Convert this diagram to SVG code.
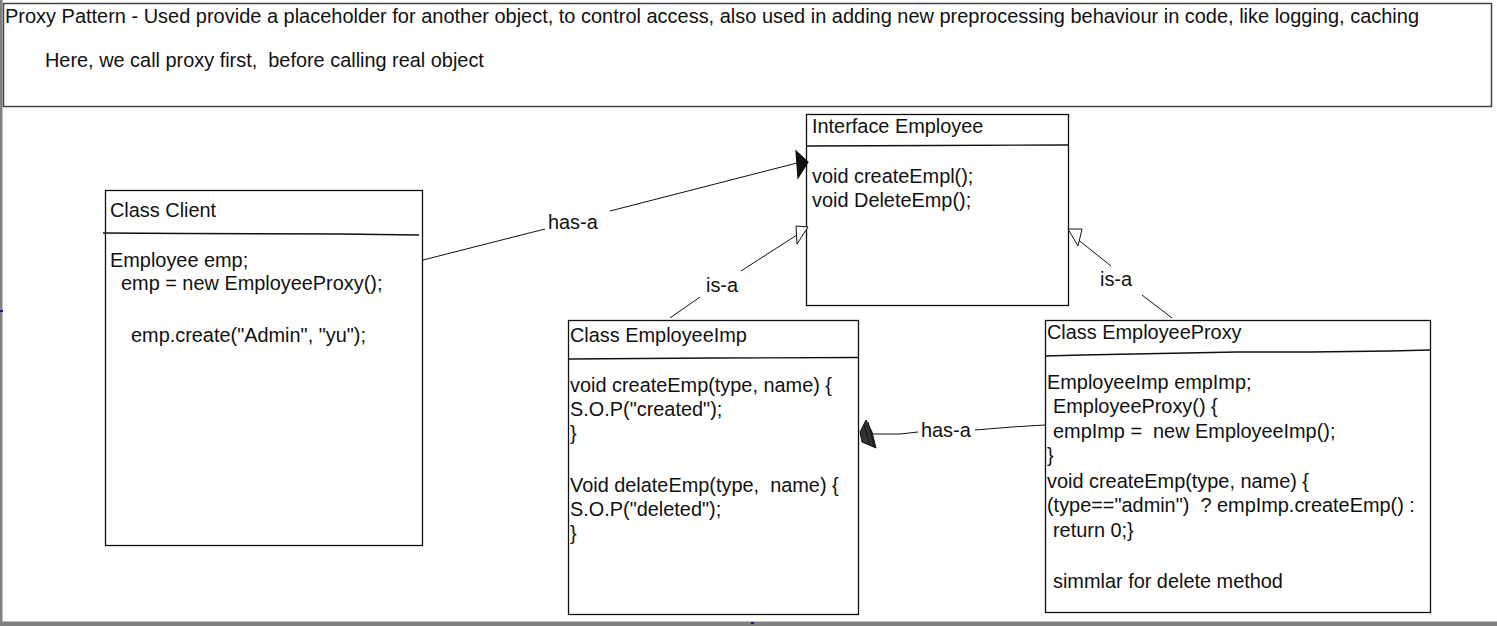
<svg xmlns="http://www.w3.org/2000/svg" width="1497" height="626" viewBox="0 0 1497 626">
<style>
text{font-family:"Liberation Sans",Arial,sans-serif;font-size:19.9px;fill:#111;white-space:pre}
.box{fill:#fff;stroke:#111;stroke-width:1.3}
.div{fill:none;stroke:#111;stroke-width:1.3}
.conn{fill:none;stroke:#111;stroke-width:1}
.tri{fill:#fff;stroke:#111;stroke-width:1}
</style>
<rect x="0" y="0" width="1497" height="626" fill="#fff"/>
<rect x="0" y="0" width="2.5" height="626" fill="#808080"/>
<rect x="0" y="621.5" width="1497" height="4.5" fill="#808080"/>
<rect x="0" y="310" width="3" height="2" fill="#1a1a9a"/>
<rect x="751" y="622" width="3" height="2" fill="#1a1a9a"/>

<g id="header">
<rect x="3.5" y="3.5" width="1488" height="103" fill="#fff" stroke="#444" stroke-width="1.5"/>
<text x="5" y="23" textLength="1414" lengthAdjust="spacingAndGlyphs" xml:space="preserve">Proxy Pattern - Used provide a placeholder for another object, to control access, also used in adding new preprocessing behaviour in code, like logging, caching</text>
<text x="45" y="67" xml:space="preserve">Here, we call proxy first,  before calling real object</text>
</g>

<g id="interface-employee">
<rect class="box" x="806.5" y="114.5" width="262" height="191"/>
<path class="div" d="M807 146 L937 145.5 L1068 145"/>
<text x="812" y="133">Interface Employee</text>
<text x="812" y="183">void createEmpl();</text>
<text x="812" y="207">void DeleteEmp();</text>
</g>

<g id="class-client">
<rect class="box" x="105.5" y="190.5" width="317" height="355"/>
<path class="div" d="M103 233 L183 233.5 L340 234 L419 235"/>
<text x="110" y="217">Class Client</text>
<text x="110" y="267">Employee emp;</text>
<text x="121" y="290">emp = new EmployeeProxy();</text>
<text x="131" y="342">emp.create("Admin", "yu");</text>
</g>

<g id="class-employeeimp">
<rect class="box" x="568.5" y="320.5" width="290" height="294"/>
<path class="div" d="M568 359 L714 358 L858 357.5"/>
<text x="570" y="342">Class EmployeeImp</text>
<text x="570" y="392">void createEmp(type, name) {</text>
<text x="570" y="416">S.O.P("created");</text>
<text x="570" y="440">}</text>
<text x="570" y="492" xml:space="preserve">Void delateEmp(type,  name) {</text>
<text x="570" y="516">S.O.P("deleted");</text>
<text x="570" y="540">}</text>
</g>

<g id="class-employeeproxy">
<rect class="box" x="1045.5" y="320.5" width="385" height="292"/>
<path class="div" d="M1045 356 L1082 355 L1237 352 L1310 352 L1390 351 L1430 350"/>
<text x="1047" y="339">Class EmployeeProxy</text>
<text x="1047" y="389">EmployeeImp empImp;</text>
<text x="1053" y="413">EmployeeProxy() {</text>
<text x="1053" y="438" xml:space="preserve">empImp =  new EmployeeImp();</text>
<text x="1047" y="462">}</text>
<text x="1047" y="488">void createEmp(type, name) {</text>
<text x="1047" y="512" xml:space="preserve">(type=="admin")  ? empImp.createEmp() :</text>
<text x="1053" y="537">return 0;}</text>
<text x="1053" y="588">simmlar for delete method</text>
</g>

<g id="connectors">
<!-- Client has-a Interface -->
<path class="conn" d="M423 260 L545 229"/>
<text x="548" y="229">has-a</text>
<path class="conn" d="M610 211 L797 163"/>
<path d="M796 151 L808 162 L798 178 Z" fill="#111" stroke="#111" stroke-width="1.2"/>
<!-- EmployeeImp is-a Interface -->
<path class="conn" d="M670 318 L700 297"/>
<text x="706" y="292">is-a</text>
<path class="conn" d="M741 271 L800 233"/>
<path class="tri" d="M796 226 L808 227 L797 244 Z"/>
<!-- Proxy is-a Interface -->
<path class="conn" d="M1172 318 L1142 295"/>
<text x="1100" y="286">is-a</text>
<path class="conn" d="M1111 266 L1076 238"/>
<path class="tri" d="M1068 229 L1082 229 L1078 246 Z"/>
<!-- Proxy has-a EmployeeImp -->
<path class="conn" d="M1045 425 L1012 427 L975 430"/>
<text x="921" y="437">has-a</text>
<path class="conn" d="M918 432 L900 434 L864 434"/>
<path d="M860 432 L866 420 L872 432 L876 448 L862 442 Z M864 425 L870 445 M868 422 L874 446" fill="#333" stroke="#111" stroke-width="1"/>
</g>
</svg>
